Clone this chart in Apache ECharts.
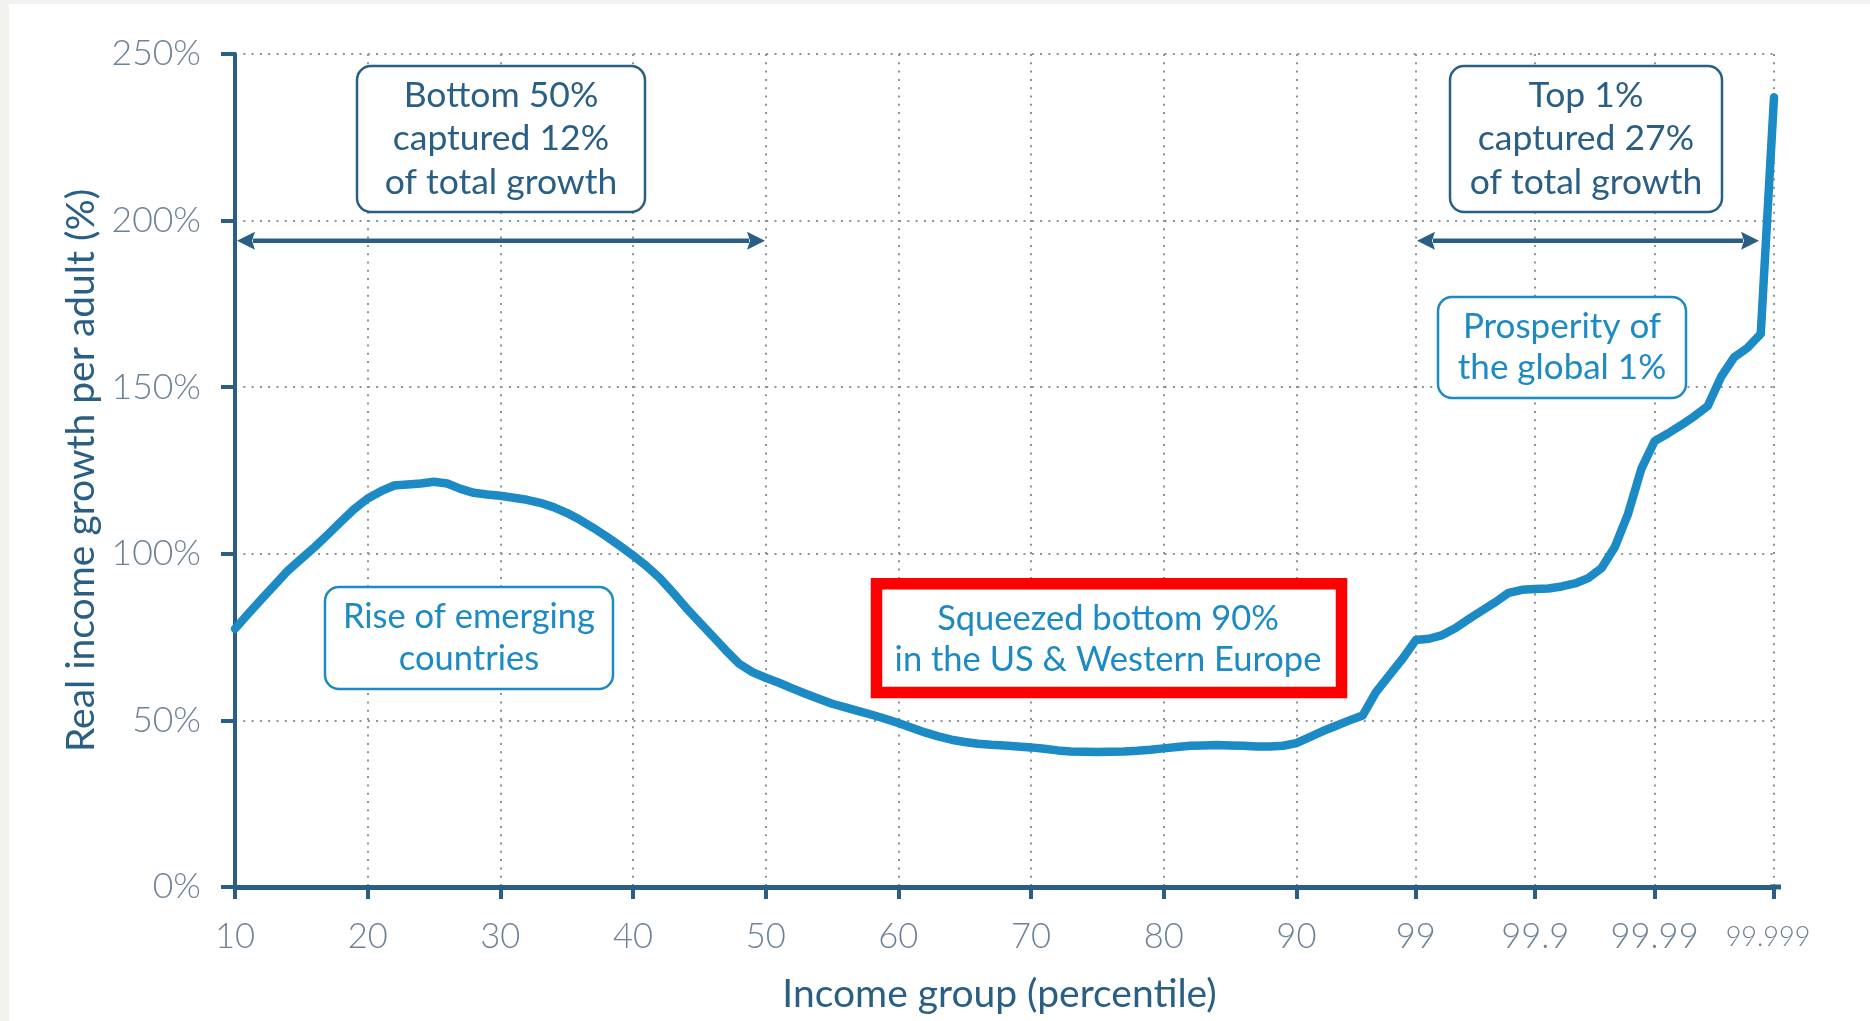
<!DOCTYPE html>
<html><head><meta charset="utf-8">
<script src="https://cdn.jsdelivr.net/npm/echarts@6/dist/echarts.min.js"></script>
<style>html,body{margin:0;padding:0;background:#fff;}#chart{width:1870px;height:1021px;}</style>
</head><body><div id="chart"></div>
<script>
// Percentile groups (equally spaced on the axis)
const categories = [
 '10','11','12','13','14','15','16','17','18','19',
 '20','21','22','23','24','25','26','27','28','29',
 '30','31','32','33','34','35','36','37','38','39',
 '40','41','42','43','44','45','46','47','48','49',
 '50','51','52','53','54','55','56','57','58','59',
 '60','61','62','63','64','65','66','67','68','69',
 '70','71','72','73','74','75','76','77','78','79',
 '80','81','82','83','84','85','86','87','88','89',
 '90','91','92','93','94','95','96','97','98','99',
 '99.1','99.2','99.3','99.4','99.5','99.6','99.7','99.8','99.9',
 '99.91','99.92','99.93','99.94','99.95','99.96','99.97','99.98','99.99',
 '99.991','99.992','99.993','99.994','99.995','99.996','99.997','99.998','99.999'
];
// Real income growth per adult (%), 1980-2016
const growth = [
 77.5, 82, 86.4, 90.7, 95, 98.5, 102, 105.8, 109.7, 113.5,
 116.6, 118.8, 120.5, 120.8, 121.1, 121.6, 121.1, 119.5, 118.3, 117.8,
 117.4, 116.8, 116.2, 115.3, 114, 112.3, 110.2, 107.8, 105.2, 102.4,
 99.5, 96.4, 92.8, 88.4, 83.8, 79.5, 75.3, 71, 67, 64.5,
 62.8, 61.3, 59.6, 58, 56.5, 55, 53.9, 52.8, 51.7, 50.5,
 49.2, 47.8, 46.4, 45.2, 44.2, 43.5, 43, 42.7, 42.5, 42.2,
 41.9, 41.5, 41, 40.7, 40.6, 40.5, 40.6, 40.7, 40.9, 41.2,
 41.6, 42, 42.4, 42.5, 42.6, 42.5, 42.4, 42.2, 42.2, 42.4,
 43.2, 45, 46.8, 48.4, 50, 51.5, 58.5, 63.5, 68.5, 74.1,
 74.5, 75.6, 77.7, 80.4, 83, 85.5, 88.3, 89.2, 89.4,
 89.6, 90.2, 91.1, 92.7, 95.7, 102, 112, 125.5, 133.8,
 136.1, 138.6, 141.3, 144.3, 153, 159, 161.8, 166, 237
];
const tickLabels = ['10','20','30','40','50','60','70','80','90','99','99.9','99.99','99.999'];
const smallLabels = ['99.999'];

const DARK = '#2a5f85', BLUE = '#1b8ac5', GRID = '#8d9298', LABEL = '#6c8296';
const FONT = 'Lato';
const showTick = (i, v) => tickLabels.indexOf(v) >= 0;

function box(x, y, w, h, stroke, text, cx, cy, fs, lh, color) {
  return [
    {type:'rect', z:10, shape:{x:x, y:y, width:w, height:h, r:14},
     style:{fill:'#fff', stroke:stroke, lineWidth:2.5}},
    {type:'text', z:11, style:{text:text, x:cx, y:cy, align:'center', verticalAlign:'middle',
     fill:color, fontFamily:FONT, fontSize:fs, lineHeight:lh}}
  ];
}
function arrow(x1, x2, y) {
  const hl = 18, hw = 9, notch = 3;
  return [
    {type:'line', z:10, shape:{x1:x1+hl-2, y1:y, x2:x2-hl+2, y2:y}, style:{stroke:DARK, lineWidth:4.5}},
    {type:'polygon', z:10, shape:{points:[[x1,y],[x1+hl,y-hw],[x1+hl-notch,y],[x1+hl,y+hw]]}, style:{fill:DARK}},
    {type:'polygon', z:10, shape:{points:[[x2,y],[x2-hl,y-hw],[x2-hl+notch,y],[x2-hl,y+hw]]}, style:{fill:DARK}}
  ];
}

const graphics = [].concat(
  [{type:'rect', z:0, shape:{x:0,y:0,width:1870,height:4}, style:{fill:'#f2f3ef'}},
   {type:'rect', z:0, shape:{x:0,y:0,width:9,height:1021}, style:{fill:'#f2f3ef'}},
   {type:'line', z:10, shape:{x1:1770, y1:887, x2:1781, y2:887}, style:{stroke:DARK, lineWidth:5}}],
  box(357, 66, 288, 146, DARK, 'Bottom 50%\ncaptured 12%\nof total growth', 501, 139, 35.5, 43.5, DARK),
  box(1450, 66, 272, 146, DARK, 'Top 1%\ncaptured 27%\nof total growth', 1586, 139, 35.5, 43.5, DARK),
  box(1438, 297, 248, 101, BLUE, 'Prosperity of\nthe global 1%', 1562, 347, 35, 41, BLUE),
  box(325, 587, 288, 102, BLUE, 'Rise of emerging\ncountries', 469, 638, 34.5, 42, BLUE),
  [{type:'rect', z:10, shape:{x:876.5, y:583.8, width:465, height:108.8},
    style:{fill:'#fff', stroke:'#ff0000', lineWidth:11.5}},
   {type:'text', z:11, style:{text:'Squeezed bottom 90%\nin the US & Western Europe', x:1108, y:639,
    align:'center', verticalAlign:'middle', fill:BLUE, fontFamily:FONT, fontSize:34.5, lineHeight:41}}],
  arrow(237, 765, 240.7),
  arrow(1417, 1759, 240.7)
);

const chart = echarts.init(document.getElementById('chart'));
chart.setOption({
  backgroundColor:'#fff',
  animation:false,
  grid:{left:235, right:96, top:54, bottom:134},
  xAxis:{
    type:'category', data:categories, boundaryGap:false,
    name:'Income group (percentile)', nameLocation:'middle', nameGap:88,
    nameTextStyle:{color:DARK, fontFamily:FONT, fontSize:39, padding:[0,10,0,0]},
    axisLine:{lineStyle:{color:DARK, width:5}},
    axisTick:{show:true, interval:showTick, length:12, lineStyle:{color:DARK, width:4}},
    axisLabel:{interval:showTick, margin:32, color:LABEL, fontFamily:FONT, fontWeight:300, fontSize:34.5,
      formatter:v => smallLabels.indexOf(v) >= 0 ? '{s|' + v + '}' : v,
      rich:{s:{fontSize:27, fontFamily:FONT, fontWeight:300, color:LABEL, padding:[5,12,0,0]}}},
    splitLine:{show:true, interval:showTick, lineStyle:{color:GRID, width:2, type:[2,6.3]}}
  },
  yAxis:{
    type:'value', min:0, max:250, interval:50,
    name:'Real income growth per adult (%)', nameLocation:'middle', nameGap:134, nameRotate:90,
    nameTextStyle:{color:DARK, fontFamily:FONT, fontSize:39},
    axisLine:{show:true, lineStyle:{color:DARK, width:4}},
    axisTick:{show:true, length:14, lineStyle:{color:DARK, width:4}},
    axisLabel:{margin:34, color:LABEL, fontFamily:FONT, fontWeight:300, fontSize:35.5, formatter:'{value}%'},
    splitLine:{show:true, lineStyle:{color:GRID, width:2, type:[2,6.3]}}
  },
  series:[{
    type:'line', data:growth, showSymbol:false, smooth:false,
    lineStyle:{color:BLUE, width:8.5, join:'round', cap:'round'}, z:5
  }],
  graphic:graphics
});
</script></body></html>
